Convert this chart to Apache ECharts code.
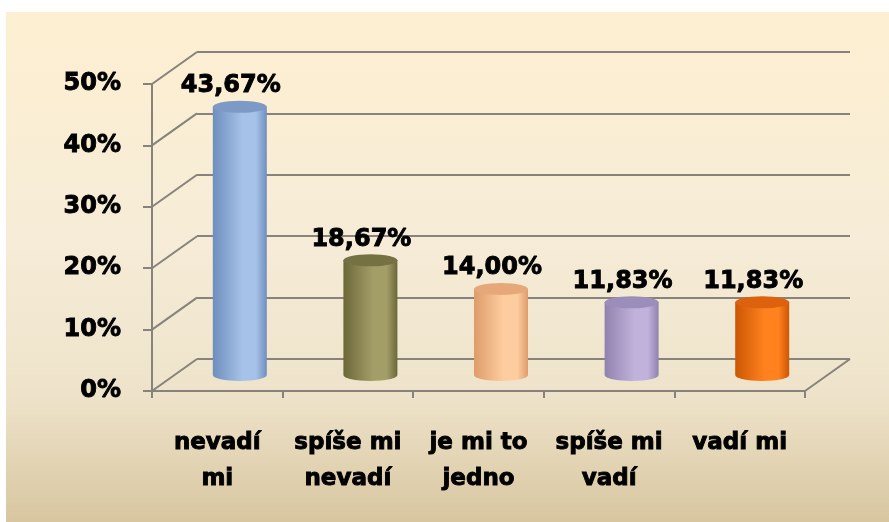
<!DOCTYPE html>
<html>
<head>
<meta charset="utf-8">
<script src="https://cdn.jsdelivr.net/npm/echarts@6/dist/echarts.min.js"></script>
<style>
    html, body { margin: 0; padding: 0; background: #fff; }
    #chart { width: 889px; height: 522px; }
</style>
</head>
<body>
<div id="chart"></div>
<script>
(function () {
    'use strict';

    // data
    var categories = ['nevadí\nmi', 'spíše mi\nnevadí', 'je mi to\njedno', 'spíše mi\nvadí', 'vadí mi'];
    var values = [43.67, 18.67, 14.00, 11.83, 11.83];
    var yTicks = [0, 10, 20, 30, 40, 50];

    // cylinder colours: [edge, centre, top]
    var barColors = [
        ['#6E8EBE', '#A6C2E8', '#7D9AC6'],
        ['#6C6738', '#A39E68', '#767142'],
        ['#DE9C6A', '#FDCDA0', '#E6A878'],
        ['#9082AE', '#C0B2DA', '#9C8EBA'],
        ['#CC5604', '#FF821E', '#DE620E']
    ];

    var DX = 45, DY = -32;      // depth of the 3d box
    var FONT = 'DejaVu Sans';
    var GRID_COLOR = '#87827B';

    var chart = echarts.init(document.getElementById('chart'), null, { renderer: 'canvas' });

    function fmt(v) {
        return v.toFixed(2).replace('.', ',') + '%';
    }

    // diagonal lines of the left wall and floor edge
    function renderWall(params, api) {
        var v = api.value(1);
        var half = api.size([1, 0])[0] / 2;
        var p = api.coord([0, v]);
        var x0 = p[0] - half;
        var lineStyle = { stroke: GRID_COLOR, lineWidth: 2 };
        var children = [{
            type: 'line',
            shape: { x1: x0, y1: p[1], x2: x0 + DX, y2: p[1] + DY },
            style: lineStyle
        }];
        if (v === 0) {
            var q = api.coord([categories.length - 1, 0]);
            children.push({
                type: 'line',
                shape: { x1: q[0] + half, y1: q[1], x2: q[0] + half + DX, y2: q[1] + DY },
                style: lineStyle
            });
        }
        return { type: 'group', children: children };
    }

    function renderCylinder(params, api) {
        var idx = api.value(0);
        var base = api.coord([idx, 0]);
        var top = api.coord([idx, api.value(1)]);
        var cx = base[0] + DX / 2;
        var yb = base[1] + DY / 2;
        var yt = top[1] + DY / 2;
        var r = 27, ry = 6;
        var c = barColors[idx];
        var bodyFill = new echarts.graphic.LinearGradient(0, 0, 1, 0, [
            { offset: 0, color: c[0] },
            { offset: 0.55, color: c[1] },
            { offset: 0.8, color: c[1] },
            { offset: 1, color: c[0] }
        ]);
        var body = 'M' + (cx - r) + ' ' + yt +
            ' L' + (cx - r) + ' ' + yb +
            ' A' + r + ' ' + ry + ' 0 0 0 ' + (cx + r) + ' ' + yb +
            ' L' + (cx + r) + ' ' + yt + ' Z';
        var cap = 'M' + (cx - r) + ' ' + yt +
            ' A' + r + ' ' + ry + ' 0 1 0 ' + (cx + r) + ' ' + yt +
            ' A' + r + ' ' + ry + ' 0 1 0 ' + (cx - r) + ' ' + yt + ' Z';
        return {
            type: 'group',
            children: [
                { type: 'path', shape: { pathData: body }, style: { fill: bodyFill } },
                { type: 'path', shape: { pathData: cap }, style: { fill: c[2] } },
                {
                    type: 'text',
                    x: cx - 9,
                    y: yt - 21,
                    style: {
                        text: fmt(api.value(1)),
                        fill: '#000',
                        stroke: '#000',
                        lineWidth: 0.9,
                        font: 'bold 24px "' + FONT + '"',
                        align: 'center',
                        verticalAlign: 'middle'
                    }
                }
            ]
        };
    }

    var option = {
        animation: false,
        graphic: [{
            type: 'rect',
            z: -10,
            shape: { x: 6, y: 12, width: 883, height: 510 },
            style: {
                fill: new echarts.graphic.LinearGradient(0, 0, 0, 1, [
                    { offset: 0, color: '#FDEFD1' },
                    { offset: 0.45, color: '#F6ECD7' },
                    { offset: 0.75, color: '#EEE3CA' },
                    { offset: 1, color: '#D8C6A0' }
                ])
            }
        }],
        grid: [
            { left: 152, top: 84, width: 653, height: 307 },
            { left: 152 + DX, top: 84 + DY, width: 653, height: 307 }
        ],
        xAxis: [
            {
                type: 'category',
                gridIndex: 0,
                data: categories,
                axisLine: { lineStyle: { color: GRID_COLOR, width: 2 } },
                axisTick: { show: true, length: 7, lineStyle: { color: GRID_COLOR, width: 2 } },
                axisLabel: {
                    interval: 0,
                    margin: 34,
                    color: '#000',
                    fontFamily: FONT,
                    fontWeight: 'bold',
                    fontSize: 23,
                    lineHeight: 36,
                    textBorderColor: '#000',
                    textBorderWidth: 0.9
                },
                z: 3
            },
            {
                type: 'category',
                gridIndex: 1,
                data: categories,
                show: false
            }
        ],
        yAxis: [
            {
                type: 'value',
                gridIndex: 0,
                min: 0,
                max: 50,
                interval: 10,
                axisLine: { show: true, lineStyle: { color: GRID_COLOR, width: 2 } },
                axisTick: { show: true, length: 9, lineStyle: { color: GRID_COLOR, width: 2 } },
                splitLine: { show: false },
                axisLabel: {
                    formatter: '{value}%',
                    margin: 31,
                    color: '#000',
                    fontFamily: FONT,
                    fontWeight: 'bold',
                    fontSize: 24,
                    textBorderColor: '#000',
                    textBorderWidth: 0.9
                },
                z: 3
            },
            {
                type: 'value',
                gridIndex: 1,
                min: 0,
                max: 50,
                interval: 10,
                axisLine: { show: false },
                axisTick: { show: false },
                axisLabel: { show: false },
                splitLine: { show: true, lineStyle: { color: GRID_COLOR, width: 2 } }
            }
        ],
        series: [
            {
                type: 'custom',
                name: 'wall',
                xAxisIndex: 0,
                yAxisIndex: 0,
                renderItem: renderWall,
                data: yTicks.map(function (v) { return [0, v]; }),
                z: 1,
                silent: true
            },
            {
                type: 'custom',
                name: 'cylinders',
                xAxisIndex: 0,
                yAxisIndex: 0,
                renderItem: renderCylinder,
                data: values.map(function (v, i) { return [i, v]; }),
                z: 5,
                clip: false
            }
        ]
    };

    chart.setOption(option);
})();
</script>
</body>
</html>
